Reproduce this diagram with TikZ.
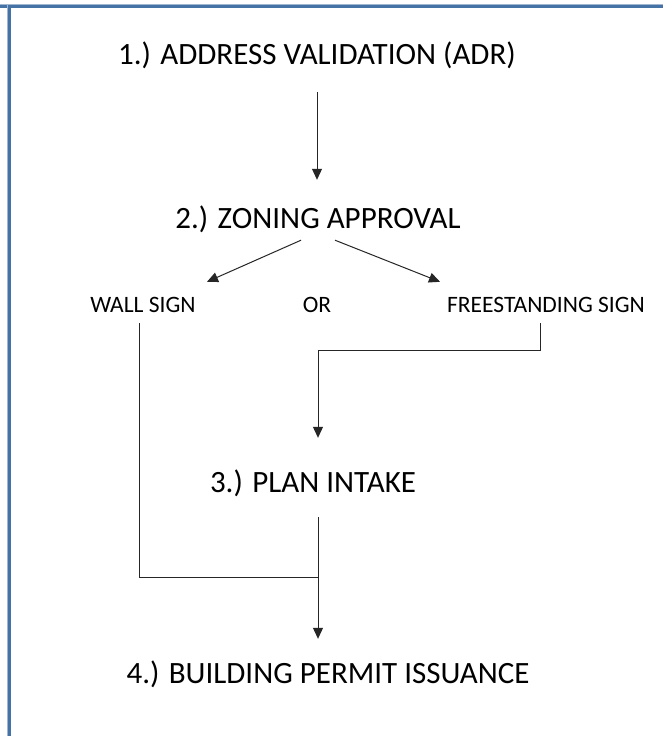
\documentclass[tikz,border=0pt]{standalone}
\usepackage{fontspec}
\setmainfont{Carlito}
\usetikzlibrary{arrows.meta,calc}
\definecolor{frameblue}{RGB}{70,115,166}
\definecolor{framelight}{RGB}{160,182,208}
\begin{document}
\begin{tikzpicture}[x=1pt,y=-1pt,
  big/.style={font=\fontsize{31}{37}\selectfont, inner sep=0pt, text height=20pt, text depth=0pt, anchor=base},
  small/.style={font=\fontsize{23.5}{28}\selectfont, inner sep=0pt, text height=15pt, text depth=0pt, anchor=base},
  conn/.style={line width=1pt, draw=black!85},
  arr/.style={conn, -{Triangle[width=10pt,length=11pt]}},
]
\useasboundingbox (0,0) rectangle (663,736);
\fill[white] (0,0) rectangle (663,736);
\fill[framelight] (0,3.5) rectangle (663,4.5);
\fill[frameblue] (0,4.5) rectangle (663,7.5);
\fill[framelight] (6.5,4.5) rectangle (7.5,736);
\fill[frameblue] (7.5,4.5) rectangle (11,736);

\node[big] (t1) at (317,64) {1.) ADDRESS VALIDATION (ADR)};
\node[big] (t2) at (318,228) {2.) ZONING APPROVAL};
\node[small] (wall) at (143,312) {WALL SIGN};
\node[small] (or) at (317,312) {OR};
\node[small] (free) at (546,312) {FREESTANDING SIGN};
\node[big] (t3) at (313,492) {3.) PLAN INTAKE};
\node[big] (t4) at (328,683) {4.) BUILDING PERMIT ISSUANCE};

% 1 -> 2
\coordinate (a1) at ($(t1.south)+(0,28)$);
\draw[arr] (a1) -- ($(a1 |- t2.north)+(0,-28)$);
% 2 -> wall / free
\draw[arr] ($(t2.south)+(-17,12)$) -- ($(wall.north)+(64,-15)$);
\draw[arr] ($(t2.south)+(17,12)$) -- ($(free.north)+(-106,-15)$);
% free -> 3
\coordinate (fs) at ($(free.south)+(-6,11)$);
\coordinate (fe) at ($(fs)+(0,27)$);
\coordinate (tx) at ($(t3.south)+(5,0)$);
\draw[arr] (fs) -- (fe) -- (fe -| tx) -- ($(tx |- t3.north)+(0,-34)$);
% 3 -> 4
\coordinate (t3s) at ($(tx)+(0,25)$);
\coordinate (tip4) at ($(tx |- t4.north)+(0,-24)$);
\draw[arr] (t3s) -- (tip4);
% wall -> 4
\coordinate (ws) at ($(wall.south)+(-4,11)$);
\coordinate (join) at ($(tx)+(0,85)$);
\draw[conn] (ws) |- (join);
\end{tikzpicture}
\end{document}
